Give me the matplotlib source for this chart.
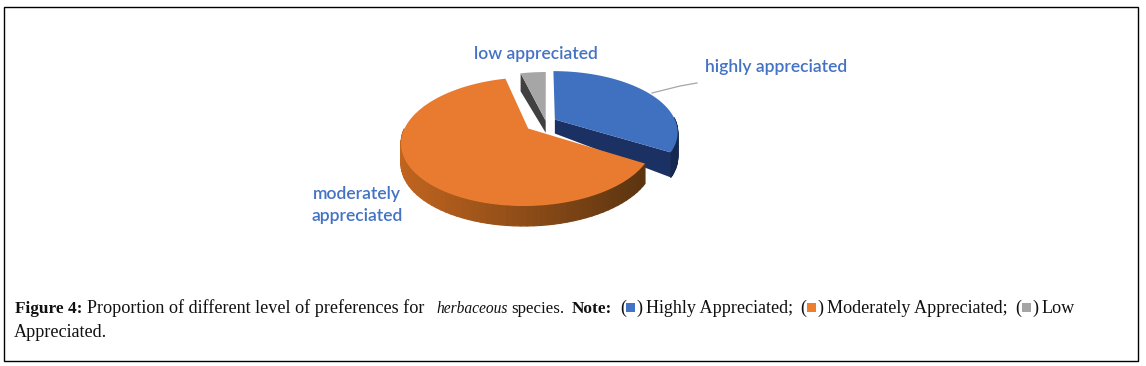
import numpy as np
import matplotlib
matplotlib.use('Agg')
import matplotlib.pyplot as plt
from matplotlib.patches import Polygon, Rectangle

# shares, in percent
categories = ['highly appreciated', 'moderately appreciated', 'low appreciated']
shares = [33.5, 62.5, 4.0]
explode = [0.085, 0.18, 0.02]
colors = ['#4070C0', '#E97B30', '#A6A6A6']
side_light = ['#1C3163', '#C0641F', '#404040']
side_dark = ['#152850', '#5A3410', '#333333']
legend_colors = ['#4472C4', '#ED7D31', '#A5A5A5']

CX, CY = 546, 122
RX, RY = 121, 59
TILT = 0.2
DEPTH = [25, 20, 18]

fig = plt.figure(figsize=(11.46, 3.66), dpi=100)
ax = fig.add_axes([0, 0, 1, 1])
ax.set_xlim(0, 1146)
ax.set_ylim(366, 0)
ax.axis('off')


def project(x, y):
    s = 1 / (1 + TILT * y)
    return CX + RX * x * s, CY - RY * y * s


def mix(c1, c2, t):
    a = np.array(matplotlib.colors.to_rgb(c1))
    b = np.array(matplotlib.colors.to_rgb(c2))
    return tuple(a + (b - a) * t)


# let pie work out the wedge angles and offsets, then draw them in perspective
wedges, _ = ax.pie(shares, explode=explode, startangle=90, counterclock=False,
                   radius=1, center=(0, 0), frame=False)
ax.set_aspect('auto')
ax.set_xlim(0, 1146)
ax.set_ylim(366, 0)
geom = []
for w in wedges:
    geom.append((w.center, w.theta1, w.theta2))
    w.remove()

# back to front: low, highly, moderately
for i in [2, 0, 1]:
    (ox, oy), t1, t2 = geom[i]
    th = np.radians(np.linspace(t1, t2, 90))
    px, py = project(ox + np.cos(th), oy + np.sin(th))
    ax0, ay0 = project(ox, oy)
    d = DEPTH[i]

    # cut faces
    if i == 0:
        ax.add_patch(Polygon([(ax0, ay0), (px[0], py[0]), (px[0], py[0] + d),
                              (ax0, ay0 + 14)], fc=side_light[i], ec='none', zorder=2))
    if i == 2:
        ax.add_patch(Polygon([(ax0, ay0), (px[-1], py[-1]), (px[-1], py[-1] + d),
                              (ax0, ay0 + 12)], fc=side_light[i], ec='none', zorder=2))

    # outer rim, front part only
    for k in range(len(px) - 1):
        if np.sin(th[k]) > 0.03:
            continue
        t = (px[k] - px.min()) / (px.max() - px.min())
        c = mix(side_light[i], side_dark[i], t)
        ax.add_patch(Polygon([(px[k], py[k]), (px[k + 1], py[k + 1]),
                              (px[k + 1], py[k + 1] + d), (px[k], py[k] + d)],
                             fc=c, ec=c, lw=0.9, zorder=2 + i))

    ax.add_patch(Polygon(np.column_stack([np.r_[ax0, px], np.r_[ay0, py]]),
                         fc=colors[i], ec='none', zorder=3 + i))

# labels
lab = dict(color='#4472C4', fontsize=12.6, family='Lato', fontweight='semibold')
ax.text(776, 67, categories[0], ha='center', va='center', **lab)
ax.text(536, 54, categories[2], ha='center', va='center', **lab)
ax.text(357, 205, 'moderately\nappreciated', ha='center', va='center', linespacing=1.4, **lab)
ax.plot([652, 680, 697], [93, 86, 83], color='#A6A6A6', lw=0.9)

# frame and caption
ax.add_patch(Rectangle((4, 7), 1134, 354, fc='none', ec='black', lw=1))

cap = dict(family='Liberation Serif', fontsize=13.1, color='#111111', va='baseline')
runs = [
    (15, 'Figure 4:', dict(fontweight='bold', fontsize=12.4)),
    (87, 'Proportion of different level of preferences for', {}),
    (436, 'herbaceous', dict(style='italic', fontsize=11.2)),
    (511, 'species.', dict(fontsize=12.2)),
    (572, 'Note:', dict(fontweight='bold', fontsize=12.4)),
    (620, '(', {}),
    (636, ')', {}),
    (646, 'Highly Appreciated;', {}),
    (800, '(', {}),
    (817, ')', {}),
    (827, 'Moderately Appreciated;', {}),
    (1015, '(', {}),
    (1032, ')', {}),
    (1042, 'Low', {}),
    (14, 'Appreciated.', {}),
]
for j, (x, s, extra) in enumerate(runs):
    y = 313 if j < len(runs) - 1 else 337
    ax.text(x, y, s, **{**cap, **extra})
for x, c in zip([626, 807, 1022], legend_colors):
    ax.add_patch(Rectangle((x, 303), 8.5, 8.5, fc=c, ec='none'))

fig.savefig('out.png', dpi=100)
